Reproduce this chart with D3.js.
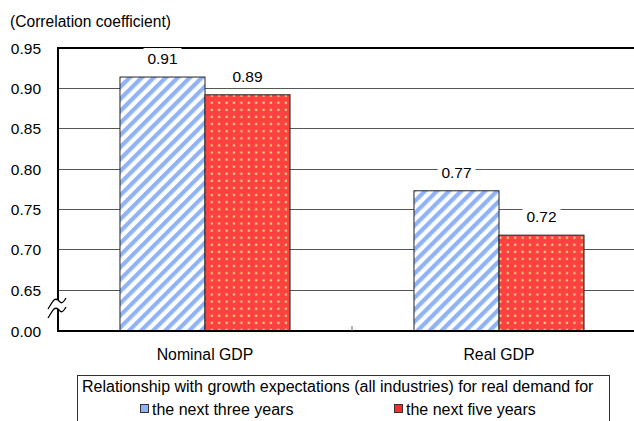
<!DOCTYPE html>
<html><head><meta charset="utf-8">
<script src="https://cdn.jsdelivr.net/npm/d3@7"></script>
<style>html,body{margin:0;padding:0;background:#fff;overflow:hidden}svg{display:block;font-family:"Liberation Sans",Arial,sans-serif}</style>
</head><body><svg id="c" width="634" height="421"></svg>
<script>
const categories = ["Nominal GDP", "Real GDP"];
const seriesNames = ["the next three years", "the next five years"];
const threeYears = [0.914, 0.773];
const fiveYears = [0.892, 0.718];
const yTicks = [0.00, 0.65, 0.70, 0.75, 0.80, 0.85, 0.90, 0.95];
const yTitle = "(Correlation coefficient)";
const legendTitle = "Relationship with growth expectations (all industries) for real demand for";

const svg = d3.select("#c");
const defs = svg.append("defs");
const stripe = defs.append("pattern").attr("id","stripe").attr("patternUnits","userSpaceOnUse")
  .attr("width",8.5).attr("height",8.5).attr("patternTransform","rotate(45)");
stripe.append("rect").attr("width",8.5).attr("height",8.5).attr("fill","#fff");
stripe.append("rect").attr("width",4.2).attr("height",8.5).attr("fill","#8fb3f5");
const dots = defs.append("pattern").attr("id","dots").attr("patternUnits","userSpaceOnUse")
  .attr("width",7.4).attr("height",7.1).attr("x",1).attr("y",0);
dots.append("rect").attr("width",7.4).attr("height",7.1).attr("fill","#fd4141");
dots.append("rect").attr("x",2.5).attr("y",2.3).attr("width",2.2).attr("height",2.2).attr("fill","#f6cf7c");

const left = 58, right = 646, bottom = 331;
const y = d3.scaleLinear().domain([0, 0.65, 0.95]).range([bottom, 290, 48]);
const x0 = d3.scaleBand().domain(categories).range([left, right]).padding(0);
const x1 = d3.scaleBand().domain(seriesNames).range([0, x0.bandwidth()]).paddingInner(0).paddingOuter(0.729);
const fills = {[seriesNames[0]]: "url(#stripe)", [seriesNames[1]]: "url(#dots)"};
const legendFills = {[seriesNames[0]]: "#8fb3f5", [seriesNames[1]]: "#f03030"};

// gridlines
svg.append("g").selectAll("line").data(yTicks.filter(t => t > 0 && t < 0.95)).join("line")
  .attr("x1", left).attr("x2", right).attr("y1", d => y(d)).attr("y2", d => y(d))
  .attr("stroke", "#555").attr("stroke-width", 1).attr("shape-rendering","crispEdges");

// top frame
svg.append("line").attr("x1", left).attr("x2", right).attr("y1", y(0.95)).attr("y2", y(0.95))
  .attr("stroke", "#000").attr("stroke-width", 2);

// bars
const rows = categories.map((c, i) => ({cat: c, vals: [
  {s: seriesNames[0], v: threeYears[i]}, {s: seriesNames[1], v: fiveYears[i]}]}));
const g = svg.append("g");
rows.forEach(r => {
  r.vals.forEach(d => {
    const bx = x0(r.cat) + x1(d.s);
    g.append("rect").attr("x", bx).attr("y", y(d.v)).attr("width", x1.bandwidth())
      .attr("height", bottom - y(d.v)).attr("fill", fills[d.s]).attr("stroke", "#222").attr("stroke-width", 1);
  });
});
// value labels
rows.forEach(r => {
  r.vals.forEach(d => {
    const cx = x0(r.cat) + x1(d.s) + x1.bandwidth() / 2;
    const ty = y(d.v) - 13;
    g.append("rect").attr("x", cx - 19).attr("y", ty - 16).attr("width", 38).attr("height", 22).attr("fill", "#fff");
    g.append("text").attr("x", cx).attr("y", ty).attr("text-anchor", "middle")
      .attr("font-size", 15.5).attr("fill", "#000").text(d.v.toFixed(2));
  });
});

// axes
svg.append("line").attr("x1", left).attr("x2", left).attr("y1", y(0.95) - 1).attr("y2", bottom + 1)
  .attr("stroke", "#000").attr("stroke-width", 2);
svg.append("line").attr("x1", left - 1).attr("x2", right).attr("y1", bottom).attr("y2", bottom)
  .attr("stroke", "#000").attr("stroke-width", 2);
// category separator tick
svg.append("line").attr("x1", x0(categories[1])).attr("x2", x0(categories[1])).attr("y1", bottom - 5).attr("y2", bottom)
  .attr("stroke", "#666").attr("stroke-width", 1);

// y tick labels
svg.append("g").selectAll("text").data(yTicks).join("text")
  .attr("x", 41).attr("y", d => y(d) + 5.5).attr("text-anchor", "end")
  .attr("font-size", 15.5).attr("fill", "#000").text(d => d.toFixed(2));

// break symbol
const brk = svg.append("g");
brk.append("path").attr("d", "M48,309 C52,303 54,297 58,300 C61,303 62,305 66,298 L66,307 C62,314 61,312 58,309 C54,306 52,312 48,318 Z")
  .attr("fill", "#fff");
["M48,309 C52,303 54,297 58,300 C61,303 62,305 66,298", "M48,318 C52,312 54,306 58,309 C61,312 62,314 66,307"]
  .forEach(p => brk.append("path").attr("d", p).attr("fill", "none").attr("stroke", "#000").attr("stroke-width", 1.3));

// y title
svg.append("text").attr("x", 10).attr("y", 27).attr("font-size", 15.6).text(yTitle);

// category labels
svg.append("g").selectAll("text").data(categories).join("text")
  .attr("x", d => x0(d) + x0.bandwidth() / 2).attr("y", 360).attr("text-anchor", "middle")
  .attr("font-size", 15.8).text(d => d);

// legend
const lg = svg.append("g");
lg.append("rect").attr("x", 77.5).attr("y", 375.5).attr("width", 532).attr("height", 60)
  .attr("fill", "#fff").attr("stroke", "#333").attr("stroke-width", 1);
lg.append("text").attr("x", 82).attr("y", 392).attr("font-size", 16).text(legendTitle);
const legX = [140, 394];
seriesNames.forEach((s, i) => {
  lg.append("rect").attr("x", legX[i] + 0.5).attr("y", 404.5).attr("width", 8).attr("height", 8)
    .attr("fill", legendFills[s]).attr("stroke", "#333").attr("stroke-width", 1);
  lg.append("text").attr("x", legX[i] + 12).attr("y", 415).attr("font-size", 16).text(s);
});
</script></body></html>
